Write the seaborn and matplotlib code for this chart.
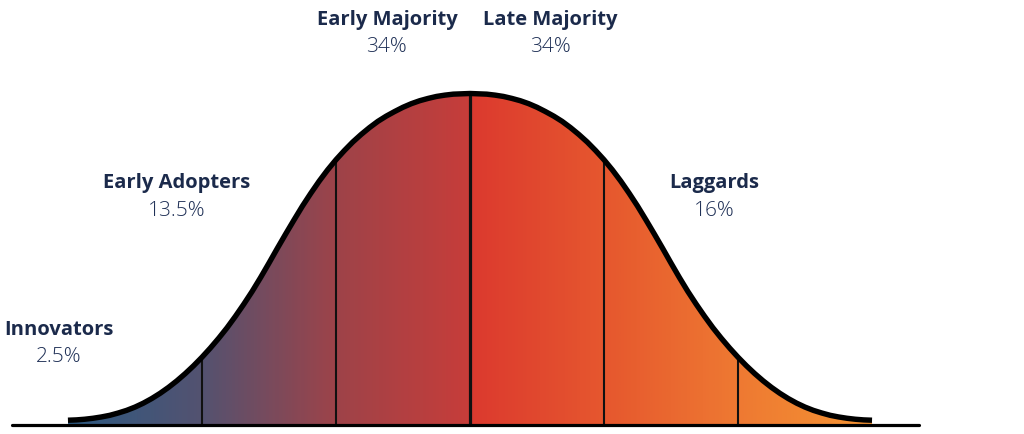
import numpy as np
import matplotlib
matplotlib.use("Agg")
import matplotlib.pyplot as plt
from matplotlib.colors import LinearSegmentedColormap
import seaborn as sns

# adoption groups, left to right
groups = ["Innovators", "Early Adopters", "Early Majority", "Late Majority", "Laggards"]
shares = ["2.5%", "13.5%", "34%", "34%", "16%"]

# section boundaries, in standard deviations from the mean
sigma_edges = [-2.0, -1.0, 0.0, 1.0, 2.0]

# bell curve (left half, peak = 1), mirrored for the right half
half_x = [-3.0, -2.9375, -2.875, -2.8125, -2.75, -2.6875, -2.625, -2.5625,
          -2.5, -2.4375, -2.375, -2.3125, -2.25, -2.1875, -2.125, -2.0625,
          -2.0, -1.9375, -1.875, -1.8125, -1.75, -1.6875, -1.625, -1.5625,
          -1.5, -1.4375, -1.375, -1.3125, -1.25, -1.1875, -1.125, -1.0625,
          -1.0, -0.9375, -0.875, -0.8125, -0.75, -0.6875, -0.625, -0.5625,
          -0.5, -0.4375, -0.375, -0.3125, -0.25, -0.1875, -0.125, -0.0625]
half_h = [0.004, 0.005, 0.007, 0.010, 0.014, 0.019, 0.026, 0.034,
          0.044, 0.056, 0.070, 0.086, 0.104, 0.124, 0.146, 0.170,
          0.196, 0.224, 0.254, 0.286, 0.321, 0.358, 0.397, 0.439,
          0.483, 0.528, 0.572, 0.615, 0.657, 0.696, 0.733, 0.767,
          0.798, 0.826, 0.852, 0.875, 0.896, 0.915, 0.931, 0.945,
          0.958, 0.969, 0.978, 0.985, 0.991, 0.995, 0.998, 0.999]
curve_x = half_x + [0.0] + [-v for v in half_x[::-1]]
curve_h = half_h + [1.0] + half_h[::-1]

# gradient stops along the curve (sigma position, colour)
grad_pos = [-3.0, -2.0, -1.0, -0.02, 0.02, 1.0, 2.0, 3.0]
grad_col = ["#2d5a82", "#545270", "#9e4349", "#c63d3a", "#dc3a2f", "#e6572e", "#ee7932", "#f59432"]

sns.set_style("white")
plt.rcParams["font.family"] = ["Open Sans", "DejaVu Sans"]

fig = plt.figure(figsize=(10.24, 4.34), dpi=100)
ax = fig.add_axes([0, 0, 1, 1])
ax.set_xlim(-3.507, 4.134)
ax.set_ylim(-0.038, 1.285)
ax.axis("off")

base = -0.0107

# gradient fill clipped to the area under the curve
poly = ax.fill_between(curve_x, base, curve_h, facecolor="none", edgecolor="none")
lo, hi = grad_pos[0], grad_pos[-1]
cmap = LinearSegmentedColormap.from_list(
    "adopt", [((p - lo) / (hi - lo), c) for p, c in zip(grad_pos, grad_col)])
grad = np.linspace(0, 1, 800)[None, :]
im = ax.imshow(grad, cmap=cmap, extent=[lo, hi, base, 1.0], aspect="auto",
               interpolation="bilinear", zorder=1)
im.set_clip_path(poly.get_paths()[0], transform=ax.transData)

# dividers between the groups
edge_h = np.interp(sigma_edges, curve_x, curve_h)
widths = [1.5 if e != 0 else 2.3 for e in sigma_edges]
for e, h, w in zip(sigma_edges, edge_h, widths):
    ax.vlines(e, base, h, color="#111111", lw=w, zorder=2)

# the curve and the base line
sns.lineplot(x=curve_x, y=curve_h, ax=ax, color="black", lw=3.9, sort=False,
             solid_capstyle="butt", solid_joinstyle="round", zorder=3)
ax.axhline(base, xmin=0.0117, xmax=0.897, color="black", lw=2.3, zorder=4)

# labels
label_x = [-3.067, -2.19, -0.62, 0.597, 1.82]
name_y = [0.265, 0.713, 1.209, 1.209, 0.713]
share_y = [0.180, 0.627, 1.125, 1.125, 0.627]
for g, s, x, ny, sy in zip(groups, shares, label_x, name_y, share_y):
    ax.text(x, ny, g, ha="center", va="baseline", fontsize=14.5, fontweight="bold",
            color="#1b2a4b")
    ax.text(x, sy, s, ha="center", va="baseline", fontsize=15, fontweight="light",
            color="#1f3056")

fig.savefig("out.png", dpi=100)
